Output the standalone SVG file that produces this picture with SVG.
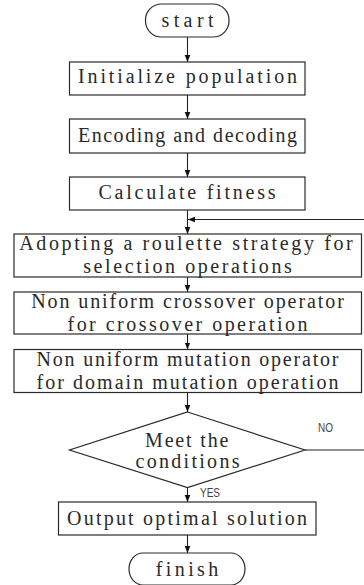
<svg xmlns="http://www.w3.org/2000/svg" width="364" height="585" viewBox="0 0 364 585">
<style>
.b{fill:#fff;stroke:#2a2a2a;stroke-width:1.2}
.t{font-family:"Liberation Serif","Times New Roman",serif;font-size:20px;fill:#2a2a2a;text-anchor:middle}
.s{font-family:"Liberation Sans",Arial,sans-serif;font-size:12px;fill:#444;text-anchor:middle}
.c{fill:none;stroke:#222;stroke-width:1.1}
</style>
<defs>
<marker id="ah" markerUnits="userSpaceOnUse" markerWidth="8" markerHeight="8" viewBox="0 0 8 8" refX="7" refY="4" orient="auto">
<path d="M0,1.2 L7,4 L0,6.8 Z" fill="#111"/>
</marker>
</defs>
<rect width="364" height="585" fill="#fff"/>
<g id="connectors">
<path class="c" d="M187.5,37 V62" marker-end="url(#ah)"/>
<path class="c" d="M187.5,95 V119" marker-end="url(#ah)"/>
<path class="c" d="M187.5,153 V177" marker-end="url(#ah)"/>
<path class="c" d="M187.5,210 V234" marker-end="url(#ah)"/>
<path class="c" d="M187.5,277 V292" marker-end="url(#ah)"/>
<path class="c" d="M187.5,334 V349.5" marker-end="url(#ah)"/>
<path class="c" d="M187.5,392.5 V412" marker-end="url(#ah)"/>
<path class="c" d="M187.5,487.5 V502" marker-end="url(#ah)"/>
<path class="c" d="M187.5,535 V553" marker-end="url(#ah)"/>
<path class="c" d="M305,450 H368 V219.5 H188" marker-end="url(#ah)"/>
<text class="s" x="325.5" y="432" textLength="15" lengthAdjust="spacingAndGlyphs">NO</text>
<text class="s" x="210" y="497" textLength="20" lengthAdjust="spacingAndGlyphs">YES</text>
</g>
<g id="start">
<rect class="b" x="145.5" y="4" width="83.5" height="33" rx="16" ry="16"/>
<text class="t" x="187.5" y="27" textLength="52" lengthAdjust="spacing">start</text>
</g>
<g id="init">
<rect class="b" x="69.5" y="62" width="235.5" height="33"/>
<text class="t" x="187.5" y="83" textLength="219" lengthAdjust="spacing">Initialize population</text>
</g>
<g id="encode">
<rect class="b" x="69.5" y="119" width="235.5" height="34"/>
<text class="t" x="187.5" y="141.5" textLength="219" lengthAdjust="spacing">Encoding and decoding</text>
</g>
<g id="fitness">
<rect class="b" x="69.5" y="177" width="235.5" height="33"/>
<text class="t" x="187" y="199" textLength="177" lengthAdjust="spacing">Calculate fitness</text>
</g>
<g id="selection">
<rect class="b" x="14" y="234" width="347.5" height="43"/>
<text class="t" x="186" y="250" textLength="333.5" lengthAdjust="spacing">Adopting a roulette strategy for</text>
<text class="t" x="187.5" y="273" textLength="208.5" lengthAdjust="spacing">selection operations</text>
</g>
<g id="crossover">
<rect class="b" x="14" y="292" width="347.5" height="42"/>
<text class="t" x="187.5" y="308" textLength="312.6" lengthAdjust="spacing">Non uniform crossover operator</text>
<text class="t" x="187.5" y="331" textLength="240" lengthAdjust="spacing">for crossover operation</text>
</g>
<g id="mutation">
<rect class="b" x="14" y="349.5" width="347.5" height="43"/>
<text class="t" x="187.5" y="366" textLength="302" lengthAdjust="spacing">Non uniform mutation operator</text>
<text class="t" x="187.5" y="388.5" textLength="302" lengthAdjust="spacing">for domain mutation operation</text>
</g>
<g id="decision">
<polygon class="b" points="187.5,412 305,450 187.5,487.5 69.5,450"/>
<text class="t" x="186.7" y="447" textLength="83.4" lengthAdjust="spacing">Meet the</text>
<text class="t" x="187.5" y="468" textLength="104" lengthAdjust="spacing">conditions</text>
</g>
<g id="output">
<rect class="b" x="58.5" y="502" width="257.5" height="33"/>
<text class="t" x="187" y="525" textLength="240" lengthAdjust="spacing">Output optimal solution</text>
</g>
<g id="finish">
<rect class="b" x="129" y="553" width="116" height="32" rx="14" ry="16"/>
<text class="t" x="187" y="576" textLength="62.5" lengthAdjust="spacing">finish</text>
</g>
</svg>
